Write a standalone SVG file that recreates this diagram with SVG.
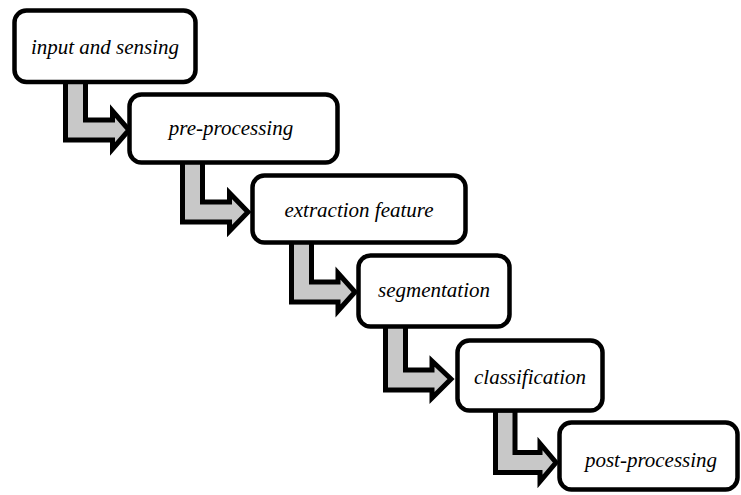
<svg xmlns="http://www.w3.org/2000/svg" width="741" height="495" viewBox="0 0 741 495">
<style>
.box{fill:#fff;stroke:#000;stroke-width:4.5}
.arr{fill:#c8c8c8;stroke:#000;stroke-width:5;stroke-linejoin:miter;stroke-miterlimit:10}
.lbl{fill:#000;text-anchor:middle;font-family:"Liberation Serif","Times New Roman",serif;font-style:italic;font-size:21px}
</style>
<rect width="741" height="495" fill="#fff"/>
<g id="connectors">
<path class="arr" d="M65.5,78 H85.5 V120 H112.5 V111 L129,130 L112.5,149 V140 H65.5 Z"/>
<path class="arr" d="M182.5,160 H202.5 V202 H229.5 V193 L248,212 L229.5,231 V222 H182.5 Z"/>
<path class="arr" d="M291.5,240 H311.5 V282 H338 V273 L355,292 L338,311 V302 H291.5 Z"/>
<path class="arr" d="M385.5,325 H405.5 V370 H432 V361 L451,379 L432,398 V390 H385.5 Z"/>
<path class="arr" d="M495.5,410 H515 V452.5 H540 V443.5 L556,462.5 L540,481.5 V472.5 H495.5 Z"/>
</g>
<g id="n1"><rect class="box" x="14.5" y="10.5" width="181" height="71.5" rx="12"/><text class="lbl" x="105" y="54">input and sensing</text></g>
<g id="n2"><rect class="box" x="129.5" y="94.5" width="208" height="68" rx="12"/><text class="lbl" x="231" y="135">pre-processing</text></g>
<g id="n3"><rect class="box" x="252.5" y="175.5" width="213" height="67" rx="12"/><text class="lbl" x="359" y="217">extraction feature</text></g>
<g id="n4"><rect class="box" x="358.5" y="255.5" width="151" height="71" rx="12"/><text class="lbl" x="434" y="297">segmentation</text></g>
<g id="n5"><rect class="box" x="457.5" y="340.5" width="145" height="70" rx="12"/><text class="lbl" x="530" y="384">classification</text></g>
<g id="n6"><rect class="box" x="559.5" y="422.5" width="178" height="67" rx="12"/><text class="lbl" x="651" y="467">post-processing</text></g>
</svg>
